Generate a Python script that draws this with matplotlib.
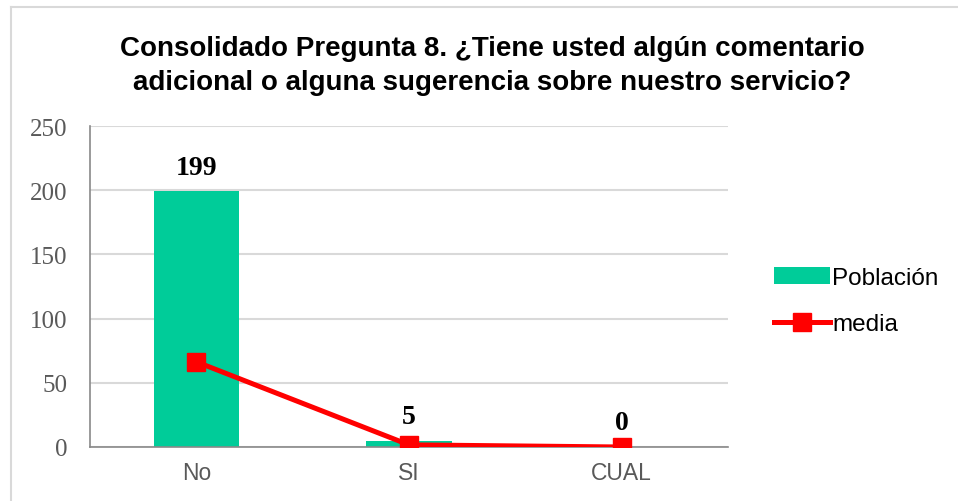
import matplotlib.pyplot as plt
from matplotlib.lines import Line2D

categorias = ["No", "SI", "CUAL"]
poblacion = [199, 5, 0]
media = [66.33, 1.67, 0]
titulo = "Consolidado Pregunta 8. ¿Tiene usted algún comentario\nadicional o alguna sugerencia sobre nuestro servicio?"

verde = "#00CC99"
rojo = "#FF0000"
gris = "#595959"

fig = plt.figure(figsize=(9.58, 5.02), dpi=100)
ax = fig.add_axes([90 / 958, 1 - 448 / 502, (728 - 90) / 958, (448 - 127) / 502])

x = list(range(len(categorias)))
barras = ax.bar(x, poblacion, width=0.4, color=verde, label="Población", zorder=2)
linea, = ax.plot(x, media, color=rojo, lw=3.6, marker="s", markersize=13, label="media", zorder=3)

for i, v in enumerate(poblacion):
    ax.text(i, v + 9, str(v), ha="center", va="bottom", fontsize=20,
            fontweight="bold", family="Liberation Serif", color="black")

ax.set_xlim(-0.5, 2.5)
ax.set_ylim(0, 250)
ax.set_yticks(range(0, 251, 50))
ax.set_xticks(x)
ax.set_xticklabels(categorias, fontsize=16.5, family="Liberation Sans", color=gris)
for t in ax.get_yticklabels():
    t.set_family("Liberation Serif")
    t.set_fontsize(18)
    t.set_color(gris)
ax.tick_params(axis="y", length=0, pad=16)
ax.tick_params(axis="x", length=0, pad=10)
ax.grid(axis="y", color="#d9d9d9", lw=1.5, zorder=0)
for s in ["top", "right"]:
    ax.spines[s].set_visible(False)
ax.spines["left"].set_color("#898989")
ax.spines["bottom"].set_color("#898989")
ax.spines["left"].set_linewidth(1.2)
ax.spines["bottom"].set_linewidth(1.2)

fig.text(492 / 958, 1 - 66 / 502, titulo, ha="center", va="center", fontsize=20,
         fontweight="bold", family="Liberation Sans", linespacing=1.35)

leg = fig.legend([barras, linea], ["Población", "media"], loc="center left",
                 bbox_to_anchor=(752 / 958, 1 - 302 / 502),
                 frameon=False, prop={"family": "Liberation Sans", "size": 17.5},
                 handlelength=2.3, handletextpad=0.1, labelspacing=1.0)

# borde exterior del grafico (solo izquierda y arriba visibles)
fig.add_artist(Line2D([11 / 958, 11 / 958], [0, 1 - 8 / 502], transform=fig.transFigure,
                      color="#d9d9d9", lw=1.5))
fig.add_artist(Line2D([11 / 958, 1], [1 - 8 / 502, 1 - 8 / 502], transform=fig.transFigure,
                      color="#d9d9d9", lw=1.5))

fig.savefig("out.png", dpi=100)
